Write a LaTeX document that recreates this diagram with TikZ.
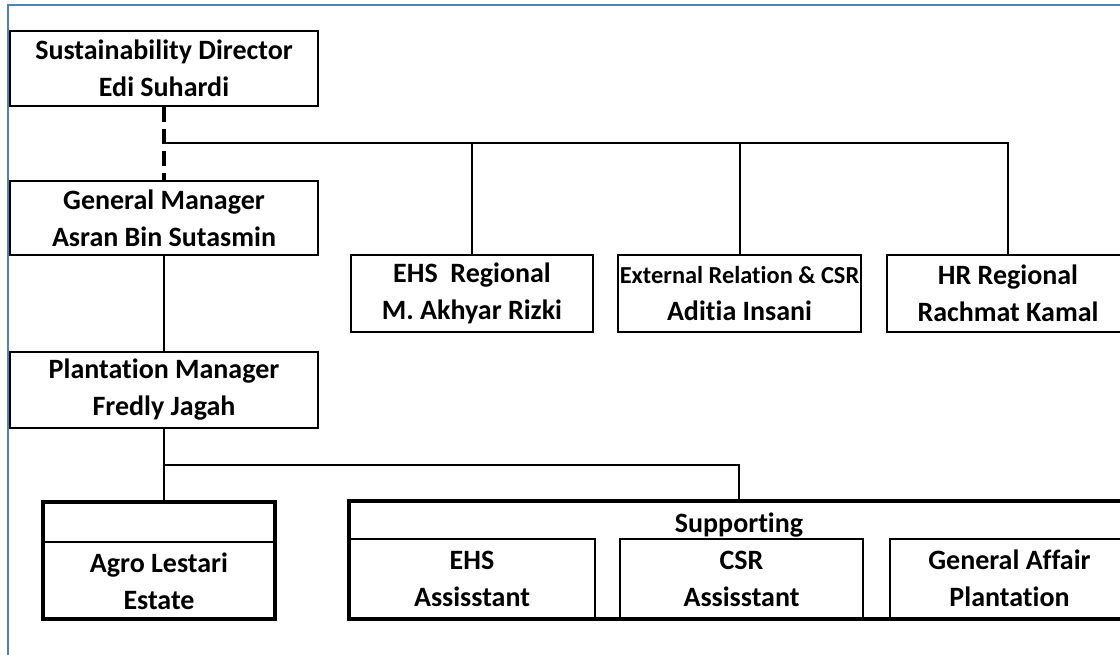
\documentclass[tikz,border=0pt]{standalone}
\usepackage{fontspec}
\setmainfont{Carlito}[Ligatures=CommonOff]
\usepackage{xcolor}
\usetikzlibrary{calc}
\definecolor{frameblue}{HTML}{4F81BD}

\begin{document}
\begin{tikzpicture}[x=0.5pt, y=-0.5pt,
  bx/.style={draw, line width=1pt, minimum width=154pt, minimum height=37.5pt, inner sep=0pt, align=center, font=\fontsize{14}{18.5}\selectfont\bfseries},
  rg/.style={bx, minimum width=121pt, minimum height=38.5pt},
  grp/.style={draw, line width=2pt, inner sep=0pt},
  sub/.style={bx, anchor=south, minimum height=39.5pt},
  conn/.style={line width=1pt},
  dsh/.style={line width=2pt, dash pattern=on 7.5pt off 3.5pt}]
\clip (0,0) rectangle (1120,654);
\draw[frameblue, line width=1pt] (8,660) -- (8,5) -- (1125,5);
% head
\node[bx] (sd) at (164,68.5) {Sustainability Director\\Edi Suhardi};
\node[bx, minimum height=37pt] (gm) at (164,218) {General Manager\\Asran Bin Sutasmin};
\node[bx, minimum height=38pt] (pm) at (164,390) {Plantation Manager\\Fredly Jagah};
% regional
\node[rg] (ehs) at (472,293.5) {EHS\ \ Regional\\M. Akhyar Rizki};
\node[rg, minimum width=121.5pt] (ext) at (739.5,293.5) {{\fontsize{12.2}{18.5}\selectfont External Relation \& CSR}\\Aditia Insani};
\node[rg] (hr) at (1008,293.5) {HR Regional\\Rachmat Kamal};
% estate
\node[grp, minimum width=116pt, minimum height=58.5pt] (agro) at (159,560.5) {};
\node[sub, minimum width=116pt, minimum height=39pt] (agrolow) at (agro.south) {Agro Lestari\\Estate};
% supporting
\node[grp, minimum width=390pt, minimum height=59pt] (supp) at (739,560) {};
\node[bx, draw=none, minimum height=19.5pt] (supphd) at (739,525) {Supporting};
\node[sub, minimum width=123pt] (ehsa) at (472,619) {EHS\\Assisstant};
\node[sub, minimum width=121.5pt] (csra) at (741.5,619) {CSR\\Assisstant};
\node[sub, minimum width=119.5pt] (gaa) at (1009.5,619) {General Affair\\Plantation};
% lines
\coordinate (tj) at (164,143);
\coordinate (bj) at ($(pm.south)!0.5!(pm.south |- agro.north)$);
\draw[dsh] (sd) -- (gm);
\draw[conn] (tj) -| (hr.north);
\draw[conn] (ehs.north) -- (ehs.north |- tj);
\draw[conn] (ext.north) -- (ext.north |- tj);
\draw[conn] (gm) -- (pm);
\draw[conn] (pm.south) -- (pm.south |- agro.north);
\draw[conn] (bj) -| (supp.north);
\end{tikzpicture}
\end{document}
